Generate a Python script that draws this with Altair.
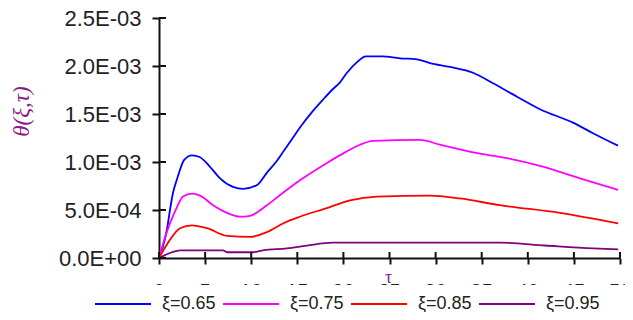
import altair as alt
import pandas as pd

# ---- data (tau in 0..50, theta in units of 1E-3) ----
series = ["ξ=0.65", "ξ=0.75", "ξ=0.85", "ξ=0.95"]
colors = ["#0000FF", "#FF00FF", "#FF0000", "#800080"]

tau_065 = [0.0, 0.43, 0.87, 1.19, 1.52, 1.95, 2.28, 2.71, 3.58, 4.45, 5.53, 6.62, 8.03, 9.11, 10.63,
           11.71, 12.69, 13.56, 14.43, 15.29, 16.59, 17.79, 18.76, 19.63, 20.39, 21.48, 22.45, 24.19,
           26.14, 27.98, 29.39, 31.56, 34.06, 36.23, 38.83, 41.32, 44.90, 47.07, 49.78]
theta_065 = [0.0, 0.12, 0.30, 0.50, 0.68, 0.82, 0.92, 1.02, 1.07, 1.05, 0.95, 0.83, 0.74, 0.72, 0.76,
             0.89, 1.00, 1.12, 1.24, 1.36, 1.52, 1.65, 1.75, 1.83, 1.93, 2.04, 2.10, 2.10,
             2.08, 2.07, 2.03, 1.99, 1.93, 1.82, 1.68, 1.55, 1.41, 1.30, 1.17]

tau_075 = [0.0, 0.54, 1.19, 1.95, 2.60, 3.58, 4.45, 5.86, 7.38, 8.79, 9.87, 11.71, 13.45, 15.29, 18.22,
           20.17, 21.80, 23.21, 28.31, 30.48, 34.06, 37.74, 41.32, 45.66, 49.80]
theta_075 = [0.0, 0.18, 0.36, 0.53, 0.64, 0.67, 0.65, 0.55, 0.47, 0.43, 0.44, 0.55, 0.68, 0.81, 0.99,
             1.10, 1.18, 1.22, 1.23, 1.18, 1.10, 1.04, 0.96, 0.83, 0.71]

tau_085 = [0.0, 0.54, 1.19, 2.28, 3.58, 5.21, 7.38, 9.87, 11.71, 13.45, 15.29, 18.22, 20.72, 23.64,
           29.39, 32.65, 36.98, 43.49, 49.80]
theta_085 = [0.0, 0.09, 0.19, 0.31, 0.34, 0.31, 0.23, 0.22, 0.27, 0.36, 0.43, 0.52, 0.60, 0.64,
             0.65, 0.62, 0.55, 0.47, 0.36]

tau_095 = [0.0, 0.65, 1.41, 2.28, 6.94, 7.38, 10.20, 11.28, 13.88, 16.05, 18.87, 37.00, 41.87, 47.07, 49.80]
theta_095 = [0.0, 0.03, 0.06, 0.08, 0.08, 0.06, 0.06, 0.08, 0.10, 0.13, 0.16, 0.16, 0.13, 0.10, 0.09]

x_ticks = [0, 5, 10, 15, 20, 25, 30, 35, 40, 45, 50]
x_tick_labels = ["0", "5", "10", "15", "20", "25", "30", "35", "40", "45", "50"]
y_ticks = [0.0, 0.0005, 0.001, 0.0015, 0.002, 0.0025]
y_tick_labels = ["0.0E+00", "5.0E-04", "1.0E-03", "1.5E-03", "2.0E-03", "2.5E-03"]

rows = []
for name, ts, vs in zip(series, [tau_065, tau_075, tau_085, tau_095],
                        [theta_065, theta_075, theta_085, theta_095]):
    for t, v in zip(ts, vs):
        rows.append({"tau": t, "theta": v * 1e-3, "series": name})
df = pd.DataFrame(rows)

W, H = 461, 240
xscale = alt.Scale(domain=[0, 50], nice=False, zero=False)
yscale = alt.Scale(domain=[0, 0.0025], nice=False)

label_expr = "[" + ",".join("'%s'" % s for s in y_tick_labels) + "][round(datum.value / 0.0005)]"

x_axis = alt.Axis(values=x_ticks, title="τ", grid=False, domainColor="#111", domainWidth=2,
                  tickColor="#111", tickWidth=2, tickSize=6, labels=False,
                  titleFont="Liberation Serif", titleFontSize=18, titleFontWeight="normal",
                  titleColor="#8B1A8B", titleX=229, titleY=19, titleBaseline="middle")
y_axis = alt.Axis(values=y_ticks, labelExpr=label_expr, title="θ(ξ,τ)", grid=False,
                  domainColor="#111", domainWidth=2, tickColor="#111", tickWidth=2, tickSize=7,
                  labelFont="Liberation Sans", labelFontSize=22, labelColor="#222",
                  labelPadding=11, titleFont="Liberation Serif", titleFontSize=23,
                  titleFontStyle="italic", titleFontWeight="normal", titleColor="#8B1A8B",
                  titleX=-138, titleY=93, titleAlign="center", titleBaseline="middle")

lines = alt.Chart(df).mark_line(strokeWidth=1.8, interpolate="monotone").encode(
    x=alt.X("tau:Q", scale=xscale, axis=x_axis),
    y=alt.Y("theta:Q", scale=yscale, axis=y_axis),
    color=alt.Color("series:N", scale=alt.Scale(domain=series, range=colors),
                    legend=alt.Legend(title=None, orient="none", legendX=-65, legendY=257,
                                      direction="horizontal", columns=4, symbolType="stroke",
                                      symbolSize=3136, symbolStrokeWidth=2, labelOffset=10,
                                      columnPadding=3, labelFont="Liberation Sans",
                                      labelFontSize=18, labelColor="#222", padding=0)),
)

# x tick labels (only their top edge peeks out above the legend band in the reference)
xl = pd.DataFrame({"tau": x_ticks, "lab": x_tick_labels})
xlabels = alt.Chart(xl).mark_text(font="Liberation Sans", fontSize=20, color="#222",
                                  baseline="top", align="center").encode(
    x=alt.X("tau:Q", scale=xscale, axis=x_axis), y=alt.value(H + 24), text="lab:N"
)

# white band hiding the lower part of the x tick labels
cover = alt.Chart(pd.DataFrame({"c": [0]})).mark_rect(color="white").encode(
    x=alt.value(-20), x2=alt.value(W + 15), y=alt.value(267), y2=alt.value(294)
)

yt = pd.DataFrame({"theta": y_ticks})
ytick_in = alt.Chart(yt).mark_rule(color="#111", strokeWidth=2).encode(
    y=alt.Y("theta:Q", scale=yscale, axis=y_axis), x=alt.value(0), x2=alt.value(7)
)
xt = pd.DataFrame({"tau": x_ticks})
xtick_in = alt.Chart(xt).mark_rule(color="#111", strokeWidth=2).encode(
    x=alt.X("tau:Q", scale=xscale, axis=x_axis), y=alt.value(H), y2=alt.value(H - 6)
)

chart = alt.layer(xlabels, cover, lines, ytick_in, xtick_in).properties(
    width=W, height=H,
    autosize=alt.AutoSizeParams(type="none"),
    padding={"left": 151, "top": 10, "right": 5, "bottom": 54},
).configure(background="white").configure_view(stroke=None)

chart.save("out.html", embed_options={"renderer": "svg", "actions": False})
